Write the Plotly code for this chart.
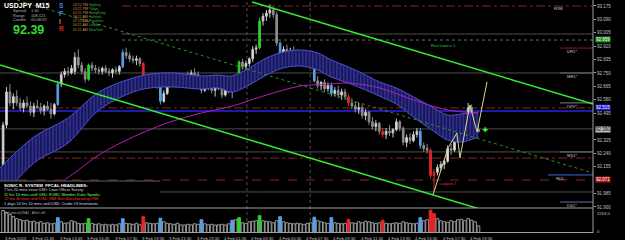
import plotly.graph_objects as go

# ---------------- data ----------------
opens = [
92.150,92.420,92.630,92.560,92.600,
92.560,92.530,92.560,92.540,92.500,92.540,92.530,92.510,92.540,92.520,92.490,
92.550,92.680,92.740,92.760,92.750,92.760,92.850,92.800,92.760,92.710,
92.800,92.780,92.770,92.760,92.780,92.760,92.750,92.770,92.760,
92.790,92.880,92.860,92.840,92.830,92.840,
92.810,92.680,92.700,92.690,92.700,
92.670,92.570,92.620,92.680,92.700,92.690,92.710,92.700,92.730,92.720,92.750,92.740,
92.710,92.640,92.680,92.660,92.640,92.670,92.650,92.610,92.650,92.630,
92.660,92.700,92.820,92.790,92.810,92.840,92.900,92.910,
93.080,93.110,93.130,93.150,93.120,
92.940,92.870,92.900,92.880,92.890,92.870,92.850,92.860,92.830,92.850,
92.810,92.700,92.670,92.690,92.650,
92.670,92.620,92.640,92.610,92.630,
92.600,92.560,92.540,92.520,92.530,92.480,92.500,92.440,92.410,92.430,
92.380,92.360,92.380,92.370,92.390,92.440,
92.400,92.310,92.340,92.320,92.360,
92.380,92.290,92.270,
92.260,92.100,92.120,92.150,92.170,
92.190,92.270,92.260,92.330,92.430,92.410,92.470,92.530,92.450,92.380]
highs = [
92.440,92.660,92.680,92.620,92.640,
92.590,92.580,92.600,92.570,92.560,92.580,92.560,92.550,92.570,92.560,92.560,
92.700,92.760,92.780,92.790,92.800,92.880,92.900,92.820,92.780,92.810,
92.820,92.800,92.790,92.790,92.800,92.780,92.780,92.790,92.800,
92.900,92.910,92.880,92.860,92.860,92.850,
92.820,92.720,92.730,92.720,92.710,
92.680,92.640,92.690,92.720,92.730,92.720,92.740,92.740,92.760,92.770,92.780,92.760,
92.720,92.690,92.700,92.690,92.680,92.690,92.670,92.660,92.680,92.680,
92.720,92.830,92.840,92.830,92.850,92.920,92.930,93.100,
93.130,93.150,93.185,93.170,93.140,
92.950,92.920,92.930,92.910,92.920,92.900,92.880,92.880,92.870,92.860,
92.820,92.730,92.700,92.710,92.690,
92.690,92.660,92.670,92.650,92.650,
92.620,92.590,92.570,92.560,92.550,92.520,92.510,92.470,92.450,92.440,
92.400,92.400,92.420,92.400,92.460,92.450,
92.410,92.360,92.370,92.380,92.400,
92.400,92.310,92.300,
92.270,92.140,92.170,92.190,92.200,
92.290,92.300,92.350,92.450,92.470,92.490,92.560,92.550,92.480,92.420]
lows = [
92.110,92.400,92.540,92.520,92.540,
92.510,92.500,92.530,92.480,92.470,92.520,92.490,92.480,92.510,92.460,92.480,
92.540,92.660,92.720,92.730,92.740,92.740,92.780,92.740,92.690,92.700,
92.760,92.750,92.740,92.740,92.750,92.730,92.720,92.740,92.740,
92.780,92.840,92.820,92.810,92.800,92.790,
92.660,92.650,92.670,92.660,92.650,
92.550,92.560,92.610,92.660,92.670,92.660,92.680,92.690,92.700,92.710,92.720,92.700,
92.620,92.630,92.640,92.620,92.600,92.640,92.590,92.600,92.620,92.590,
92.650,92.690,92.770,92.760,92.790,92.820,92.870,92.900,
93.050,93.080,93.100,93.100,92.920,
92.850,92.850,92.860,92.850,92.860,92.830,92.820,92.810,92.810,92.790,
92.690,92.650,92.640,92.630,92.630,
92.600,92.600,92.590,92.580,92.580,
92.540,92.520,92.500,92.490,92.460,92.450,92.420,92.390,92.380,92.360,
92.340,92.330,92.350,92.340,92.380,92.380,
92.290,92.280,92.300,92.310,92.340,
92.270,92.250,92.240,
92.080,92.000,92.100,92.130,92.140,
92.180,92.230,92.250,92.320,92.390,92.400,92.460,92.430,92.360,92.370]
closes = [
92.420,92.630,92.560,92.600,92.560,
92.530,92.560,92.540,92.500,92.540,92.530,92.510,92.540,92.520,92.490,92.550,
92.680,92.740,92.760,92.750,92.780,92.850,92.800,92.760,92.710,92.800,
92.780,92.770,92.760,92.780,92.760,92.750,92.770,92.760,92.790,
92.880,92.860,92.840,92.830,92.840,92.810,
92.680,92.700,92.690,92.700,92.670,
92.570,92.620,92.680,92.700,92.690,92.710,92.700,92.730,92.720,92.750,92.740,92.710,
92.640,92.680,92.660,92.640,92.670,92.650,92.610,92.650,92.630,92.660,
92.700,92.820,92.790,92.810,92.840,92.900,92.910,93.080,
93.110,93.130,93.150,93.120,92.940,
92.870,92.900,92.880,92.890,92.870,92.850,92.860,92.830,92.850,92.810,
92.700,92.670,92.690,92.650,92.670,
92.620,92.640,92.610,92.630,92.600,
92.560,92.540,92.520,92.530,92.480,92.500,92.440,92.410,92.430,92.380,
92.360,92.380,92.370,92.390,92.440,92.400,
92.310,92.340,92.320,92.360,92.380,
92.290,92.270,92.260,
92.100,92.120,92.150,92.170,92.190,
92.270,92.260,92.330,92.430,92.410,92.470,92.530,92.450,92.380,92.390]
volumes = [
2200,2000,1800,1600,1400,
1300,1200,1250,1100,1150,1000,1100,950,1000,900,950,
1500,1100,950,1000,1200,1100,950,900,950,1400,
950,850,900,800,850,780,850,800,900,
1400,950,900,850,950,800,
1600,1000,950,900,950,
1450,1100,950,900,850,950,800,780,850,800,900,850,
1300,900,800,850,780,800,850,780,900,1250,
1300,1500,1000,950,1100,1150,1200,1700,
1200,1150,1100,1000,1200,
1600,1100,1000,950,900,950,900,850,950,1000,
1550,1200,1100,1000,950,
1500,1000,950,900,950,
1350,1000,950,1100,1000,1150,1100,1000,950,1000,
1250,950,900,950,1000,950,
1100,1000,950,900,950,
1500,1200,1300,
2263,1900,1400,1200,1100,
1050,1200,1100,1300,1350,1200,1400,1250,1100,700]
bar_index = list(range(len(closes)))
blue_bars = [16, 35, 46, 58, 67, 81, 91, 96, 122]
green_bars = [25, 69, 75]
red_bars = [41, 101, 111, 125, 126]

ribbon_idx = [-0.9, 9, 19, 28, 38, 43, 50, 58, 63, 67, 72, 77, 82, 87, 92, 96, 101, 106, 110, 115, 120, 125, 130, 134, 139]
ribbon_top = [92.147, 92.344, 92.464, 92.629, 92.718, 92.743, 92.750, 92.731, 92.737, 92.731, 92.782, 92.845, 92.883,
              92.896, 92.877, 92.832, 92.788, 92.737, 92.693, 92.655, 92.598, 92.540, 92.483, 92.490, 92.502]
ribbon_bot = [91.944, 92.179, 92.306, 92.515, 92.629, 92.655, 92.661, 92.648, 92.655, 92.629, 92.674, 92.737, 92.782,
              92.794, 92.769, 92.724, 92.686, 92.642, 92.604, 92.553, 92.471, 92.394, 92.325, 92.312, 92.344]

ma_idx = [12, 17, 22, 28, 38, 48, 58, 67, 77, 87, 96, 101, 110, 120, 130, 139]
ma_val = [91.944, 92.052, 92.134, 92.230, 92.344, 92.433, 92.496, 92.540, 92.610, 92.667, 92.680, 92.686,
          92.655, 92.579, 92.515, 92.496]

support_line_idx = [-0.9, 140]
support_line_val = [92.801, 91.883]
resist_line_idx = [72.8, 172.5]
resist_line_val = [93.200, 92.553]
mid_line_idx = [4.1, 172.5]
mid_line_val = [93.213, 92.115]
zigzag_idx = [125.7, 130.1, 132.7, 133.6, 136.5, 138.6, 141.5]
zigzag_val = [91.976, 92.274, 92.369, 92.211, 92.547, 92.375, 92.693]
last_price = 92.390

# full-width horizontal levels
level_vals = [93.175, 92.997, 92.959, 92.750, 92.528, 92.509, 92.395, 92.249, 92.210, 92.071, 91.995]
level_kind = ['rdd', 'gray', 'dot', 'gray', 'rdd', 'blue', 'gray', 'gray', 'rdd', 'rdash', 'gray']
# short pivot levels at right
pivot_names = ['DR1*', 'MR1*', 'DPV*', 'MS1*', 'RDL', 'DS1*']
pivot_vals = [92.908, 92.750, 92.560, 92.249, 92.103, 91.931]
pivot_colors = ['#8b1c1c', '#707070', '#808080', '#707070', '#3a6ad8', '#6c6ca8']

price_ticks = [93.175, 93.090, 93.005, 92.920, 92.835, 92.750, 92.665, 92.580, 92.495,
               92.325, 92.240, 92.155, 91.985, 91.900]
time_labels = ["3 Feb 2013", "3 Feb 11:45", "3 Feb 13:45", "3 Feb 15:45", "3 Feb 17:30", "3 Feb 19:30",
               "3 Feb 21:30", "3 Feb 23:30", "4 Feb 01:30", "4 Feb 03:30", "4 Feb 05:30", "4 Feb 07:30",
               "4 Feb 09:30", "4 Feb 11:30", "4 Feb 13:30", "4 Feb 15:30", "4 Feb 17:30", "4 Feb 19:30"]
time_label_idx = [0, 8, 16, 24, 32, 40, 48, 56, 64, 72, 80, 88, 96, 104, 112, 120, 128, 136]

headlines = ["7 hrs 20 mins since USD: Loan Officer Survey",
             "11 hrs 10 mins until USD: FOMC Member Duke Speaks",
             "12 hrs 40 mins until USD: ISM Non-Manufacturing PMI",
             "1 days 10 hrs 10 mins until USD: Crude Oil Inventories"]
headline_colors = ['#d8d8d8', '#6cff6c', '#ff3030', '#c8d8ff']
clock_times = ["03:21 PM", "03:21 PM", "02:21 PM", "08:21 AM", "07:21 AM", "06:21 AM", "01:21 AM"]
clock_cities = ["Sydney", "Tokyo", "HongKong", "Helsinki", "Frankfurt", "London", "NewYork"]

# ---------------- layout helpers ----------------
W, H = 625, 240
MR, MB = 32, 7
PW, PH = W - MR, H - MB
MAIN_BOTTOM = 208
FONT = "Liberation Sans"
XR = [-0.9, 172.5]
YR = [93.213 - MAIN_BOTTOM * 0.006345, 93.213]


def P(x, y):
    return x / PW, 1 - y / PH


def ypix(v):
    return (YR[1] - v) / 0.006345


fig = go.Figure()

# horizontal levels (below traces)
styles = {
    'rdd': dict(color='#8b2323', width=1, dash='dashdot'),
    'rdash': dict(color='#8b2323', width=1, dash='dash'),
    'gray': dict(color='#4e4e4e', width=1),
    'dot': dict(color='#5e6e5e', width=1, dash='dot'),
    'blue': dict(color='#1c1ca8', width=2),
}
for v, k in zip(level_vals, level_kind):
    x0 = 122 / PW if v > 92.95 else 0
    fig.add_shape(type='line', xref='paper', yref='y', x0=x0, x1=1, y0=v, y1=v,
                  line=styles[k], layer='below')
for v, c in zip(pivot_vals, pivot_colors):
    x0 = 548 / PW if c == '#3a6ad8' else 560 / PW
    fig.add_shape(type='line', xref='paper', yref='y', x0=x0, x1=1, y0=v, y1=v,
                  line=dict(color=c, width=1), layer='below')

# vertical period separators
for vx in [71.3, 89.8]:
    fig.add_shape(type='line', xref='x', yref='paper', x0=vx, x1=vx, y0=0, y1=1,
                  line=dict(color='#505050', width=1, dash='dot'), layer='below')

# ribbon
fig.add_trace(go.Scatter(x=ribbon_idx, y=ribbon_bot, mode='lines', line=dict(color='#5050d8', width=1, shape='spline'),
                         hoverinfo='skip'))
fig.add_trace(go.Scatter(x=ribbon_idx, y=ribbon_top, mode='lines', line=dict(color='#5050d8', width=1, shape='spline'),
                         fill='tonexty', fillcolor='#16165c',
                         fillpattern=dict(shape='|', fgcolor='#6a6ae0', bgcolor='#16165c', size=3.42, solidity=0.3),
                         hoverinfo='skip'))
# dotted trend
fig.add_trace(go.Scatter(x=mid_line_idx, y=mid_line_val, mode='lines',
                         line=dict(color='#2f8f2f', width=1, dash='dot'), hoverinfo='skip'))
# moving average
fig.add_trace(go.Scatter(x=ma_idx, y=ma_val, mode='lines', line=dict(color='#b020b0', width=1, shape='spline'),
                         hoverinfo='skip'))

# candles
special = set(blue_bars + green_bars + red_bars)
normal = [i for i in bar_index if i not in special]


def sub(lst, ids):
    return [lst[i] for i in ids]


def candles(ids, inc_line, inc_fill, dec_line, dec_fill):
    fig.add_trace(go.Candlestick(x=ids, open=sub(opens, ids), high=sub(highs, ids), low=sub(lows, ids),
                                 close=sub(closes, ids), whiskerwidth=0,
                                 increasing=dict(line=dict(color=inc_line, width=1), fillcolor=inc_fill),
                                 decreasing=dict(line=dict(color=dec_line, width=1), fillcolor=dec_fill),
                                 hoverinfo='skip'))


candles(normal, '#c8c8c8', '#e6e6e6', '#8c8c8c', '#8c8c8c')
candles(blue_bars, '#5a9ee8', '#5a9ee8', '#5a9ee8', '#5a9ee8')
candles(green_bars, '#30d030', '#30d030', '#30d030', '#30d030')
candles(red_bars, '#e02828', '#e02828', '#e02828', '#e02828')

# channel lines
fig.add_trace(go.Scatter(x=support_line_idx, y=support_line_val, mode='lines',
                         line=dict(color='#33ee33', width=1.5), hoverinfo='skip'))
fig.add_trace(go.Scatter(x=resist_line_idx, y=resist_line_val, mode='lines',
                         line=dict(color='#33ee33', width=1.5), hoverinfo='skip'))
# zigzag projection
fig.add_trace(go.Scatter(x=zigzag_idx, y=zigzag_val, mode='lines', line=dict(color='#d8d890', width=1),
                         hoverinfo='skip'))
fig.add_trace(go.Scatter(x=[141], y=[last_price], mode='markers',
                         marker=dict(color='#33ff33', size=4, symbol='cross'), hoverinfo='skip'))

# volumes
vcol = []
for i in bar_index:
    if i in blue_bars:
        vcol.append('#5a9ee8')
    elif i in green_bars:
        vcol.append('#30d030')
    elif i in red_bars:
        vcol.append('#e02828')
    else:
        vcol.append('#000000')
vline = [c if c != '#000000' else '#9a9a9a' for c in vcol]
fig.add_trace(go.Bar(x=bar_index, y=volumes, yaxis='y2', width=0.8,
                     marker=dict(color=vcol, line=dict(color=vline, width=1)), hoverinfo='skip'))

# ---------------- overlays ----------------
# news box
bx0, by0 = P(0, 181)
bx1, by1 = P(160, MAIN_BOTTOM)
fig.add_shape(type='rect', xref='paper', yref='paper', x0=bx0, x1=bx1, y0=by1, y1=by0,
              fillcolor='#000000', line=dict(width=0), layer='above')
fig.add_shape(type='line', xref='paper', yref='paper', x0=bx0, x1=bx1, y0=by0, y1=by0,
              line=dict(color='#606060', width=1), layer='above')

# panel borders
for yy in [MAIN_BOTTOM, PH - 0.5]:
    px0, py0 = P(0, yy)
    fig.add_shape(type='line', xref='paper', yref='paper', x0=0, x1=1, y0=py0, y1=py0,
                  line=dict(color='#a0a0a0', width=1), layer='above')
fig.add_shape(type='line', xref='paper', yref='paper', x0=1, x1=1, y0=0, y1=1,
              line=dict(color='#a0a0a0', width=1), layer='above')


def txt(x, y, s, size=4.5, color='#c0c0c0', anchor='left', bold=False, bg=None):
    ax, ay = P(x, y)
    fig.add_annotation(x=ax, y=ay, xref='paper', yref='paper', text=('<b>%s</b>' % s) if bold else s,
                       showarrow=False, xanchor=anchor, yanchor='middle', borderpad=0,
                       font=dict(size=size, color=color, family=FONT), bgcolor=bg)


# top info panel
txt(3, 5.5, 'USDJPY  M15', 7, '#ffffff', bold=True)
for j, (lab, val) in enumerate([('Spread', '1.30'), ('Range', '108.121'), ('Candle', '00:08:59')]):
    txt(12, 10.5 + 4.6 * j, lab, 4.0, '#b0b0b0')
    txt(30, 10.5 + 4.6 * j, val, 4.0, '#b0b0b0')
txt(12, 29.5, '92.39', 12.5, '#33dd33', bold=True)
for j, (ch, c) in enumerate([('S', '#3a8ae8'), ('P', '#3a8ae8'), ('I', '#e08020'), ('R', '#e02828')]):
    txt(58, 6 + 7.6 * j, ch, 6.5, c, bold=True)
for j, (t, c) in enumerate(zip(clock_times, clock_cities)):
    txt(72, 4.5 + 4.2 * j, t, 3.5, '#c88a48')
    txt(88, 4.5 + 4.2 * j, c, 3.5, '#40b040')

# headlines
txt(3, 185, 'SONIC R. SYSTEM  FFCAL HEADLINES:', 4.4, '#ffffff', bold=True)
for j, (hl, c) in enumerate(zip(headlines, headline_colors)):
    txt(3, 189.7 + 4.6 * j, hl, 3.9, c)
txt(3, 212.5, 'Volumes(USA)   Alert off.', 3.8, '#a0a0a0')

# chart labels
txt(430, 45, 'Resistance 1', 4.2, '#30c030')
txt(438, 183, 'support 1', 4.2, '#d03030')
for n, v in zip(pivot_names, pivot_vals):
    txt(566 if n != 'RDL' else 555, ypix(v) + 3.5, n, 4.2, '#c0c0c0')
txt(553, 8.5, 'R3M', 4.2, '#c0c0c0')

# axis colour boxes (slightly nudged so they do not cover neighbouring tick labels)
for v, bg, fc, dy in [(92.959, '#1e8c1e', '#ffffff', -0.5), (92.515, '#1c1cd0', '#ffffff', -2.5),
                      (last_price, '#c0c0c0', '#000000', 0), (92.071, '#b01818', '#ffffff', 0)]:
    txt(595, ypix(v) + dy, '%.3f' % v, 4.5, fc, bg=bg)
# volume scale labels
txt(596, 213.5, '2263.0', 4.2, '#c0c0c0')
txt(596, 231, '0', 4.2, '#c0c0c0')

# time labels
for lab, ix in zip(time_labels, time_label_idx):
    fig.add_annotation(x=ix, y=0, xref='x', yref='paper', text=lab, showarrow=False, xanchor='left',
                       yanchor='top', yshift=-0.5, font=dict(size=4.2, color='#c0c0c0', family=FONT))

fig.update_layout(
    width=W, height=H, margin=dict(l=0, r=MR, t=0, b=MB),
    paper_bgcolor='#000000', plot_bgcolor='#000000', showlegend=False,
    xaxis=dict(range=XR, showgrid=False, zeroline=False, showticklabels=False, ticks='',
               rangeslider=dict(visible=False), fixedrange=True),
    yaxis=dict(domain=[1 - MAIN_BOTTOM / PH, 1], range=YR, side='right', showgrid=False, zeroline=False,
               tickvals=price_ticks, ticktext=['%.3f' % t for t in price_ticks], ticks='outside', ticklen=2,
               tickcolor='#a0a0a0', tickfont=dict(size=4.5, color='#c0c0c0', family=FONT)),
    yaxis2=dict(domain=[0, 1 - (MAIN_BOTTOM + 1.5) / PH], range=[0, 2300], side='right', showgrid=False,
                zeroline=False, showticklabels=False, ticks=''),
    bargap=0.2,
)

fig.write_html("out.html")
